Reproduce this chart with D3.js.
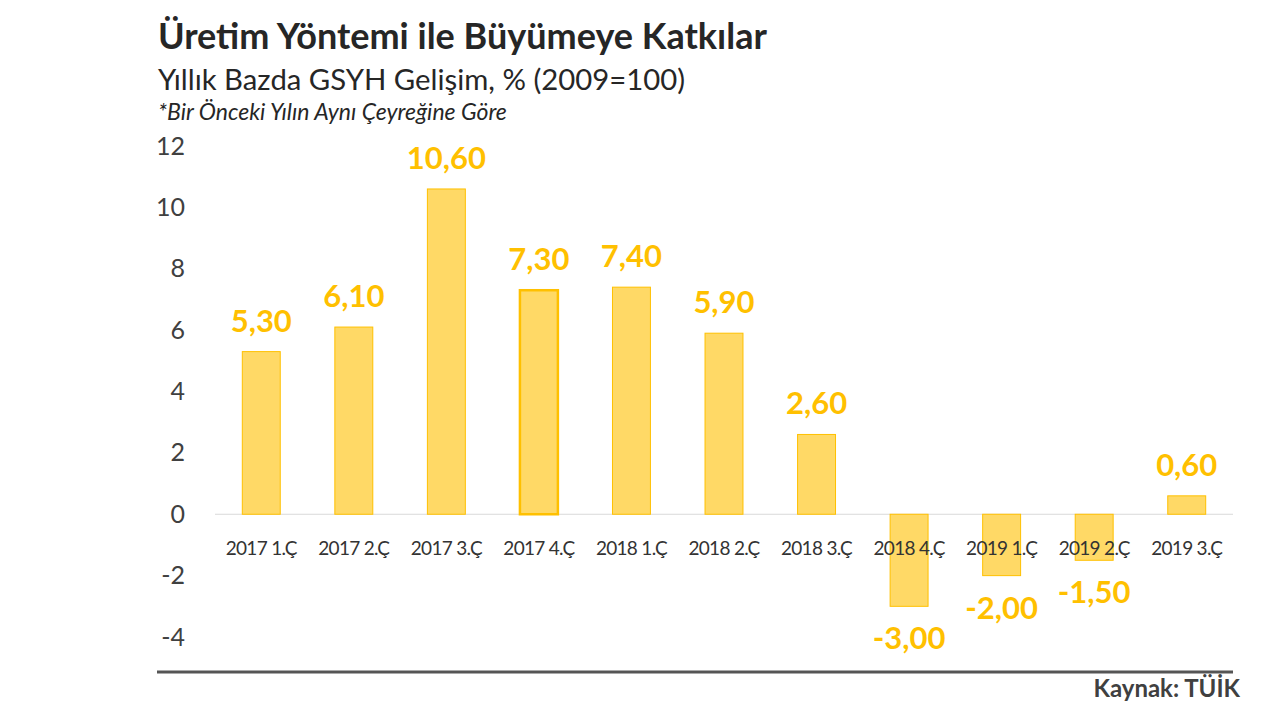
<!DOCTYPE html>
<html>
<head>
<meta charset="utf-8">
<script src="https://cdn.jsdelivr.net/npm/d3@7"></script>
<style>
  body { margin: 0; background: #fff; }
  svg text { font-family: Lato, "Open Sans", sans-serif; }
</style>
</head>
<body>
<div id="chart-area"></div>
<script>
// quarters and yearly growth (%)
let categories = ["2017 1.Ç", "2017 2.Ç", "2017 3.Ç", "2017 4.Ç", "2018 1.Ç", "2018 2.Ç",
                  "2018 3.Ç", "2018 4.Ç", "2019 1.Ç", "2019 2.Ç", "2019 3.Ç"];
let values = [5.3, 6.1, 10.6, 7.3, 7.4, 5.9, 2.6, -3.0, -2.0, -1.5, 0.6];
let yTicks = [-4, -2, 0, 2, 4, 6, 8, 10, 12];

let svg = d3.select("#chart-area")
            .append("svg")
            .attr("width", 1280)
            .attr("height", 720);

// titles
svg.append("text")
   .attr("x", 158).attr("y", 49)
   .attr("font-size", 36).attr("font-weight", "bold")
   .attr("fill", "#262626")
   .text("Üretim Yöntemi ile Büyümeye Katkılar");

svg.append("text")
   .attr("x", 158).attr("y", 90)
   .attr("font-size", 29.3)
   .attr("fill", "#262626")
   .text("Yıllık Bazda GSYH Gelişim, % (2009=100)");

svg.append("text")
   .attr("x", 158).attr("y", 120)
   .attr("font-size", 23).attr("font-style", "italic")
   .attr("fill", "#262626")
   .text("*Bir Önceki Yılın Aynı Çeyreğine Göre");

let x = d3.scaleBand()
          .domain(categories)
          .range([215, 1233])
          .paddingInner(0.59)
          .paddingOuter(0.295);

let y = d3.scaleLinear()
          .domain([-4, 12])
          .range([637, 146]);

// y axis labels
svg.append("g")
   .attr("transform", "translate(185,0)")
   .call(d3.axisLeft(y).tickValues(yTicks).tickSize(0).tickPadding(0).tickFormat(d => String(d)))
   .call(g => g.select(".domain").remove())
   .selectAll("text")
   .attr("font-size", 25)
   .attr("fill", "#404040");

// zero line
svg.append("line")
   .attr("x1", 215).attr("x2", 1233)
   .attr("y1", y(0)).attr("y2", y(0))
   .attr("stroke", "#d9d9d9")
   .attr("stroke-width", 1);

// bars
svg.selectAll("rect.bar")
   .data(values)
   .enter()
   .append("rect")
   .attr("class", "bar")
   .attr("x", (d, i) => x(categories[i]))
   .attr("width", x.bandwidth())
   .attr("y", d => y(Math.max(0, d)))
   .attr("height", d => Math.abs(y(d) - y(0)))
   .attr("fill", "#FFD966")
   .attr("stroke", "#FFC000")
   .attr("stroke-width", (d, i) => i === 3 ? 2.5 : 1);

// category labels
svg.selectAll("text.cat")
   .data(categories)
   .enter()
   .append("text")
   .attr("class", "cat")
   .attr("x", d => x(d) + x.bandwidth() / 2)
   .attr("y", y(0) + 41)
   .attr("text-anchor", "middle")
   .attr("font-size", 19)
   .attr("letter-spacing", -0.7)
   .attr("fill", "#333")
   .text(d => d);

// value labels
let fmt = d => d.toFixed(2).replace(".", ",");
svg.selectAll("text.val")
   .data(values)
   .enter()
   .append("text")
   .attr("class", "val")
   .attr("x", (d, i) => x(categories[i]) + x.bandwidth() / 2)
   .attr("y", d => d >= 0 ? y(d) - 20 : y(d) + 43)
   .attr("text-anchor", "middle")
   .attr("font-size", 31)
   .attr("font-weight", "bold")
   .attr("fill", "#FFC000")
   .text(fmt);

// bottom rule and source
svg.append("line")
   .attr("x1", 157).attr("x2", 1233)
   .attr("y1", 672).attr("y2", 672)
   .attr("stroke", "#555")
   .attr("stroke-width", 3);

svg.append("text")
   .attr("x", 1240).attr("y", 697)
   .attr("text-anchor", "end")
   .attr("font-size", 24).attr("font-weight", "bold")
   .attr("fill", "#404040")
   .text("Kaynak: TÜİK");
</script>
</body>
</html>
